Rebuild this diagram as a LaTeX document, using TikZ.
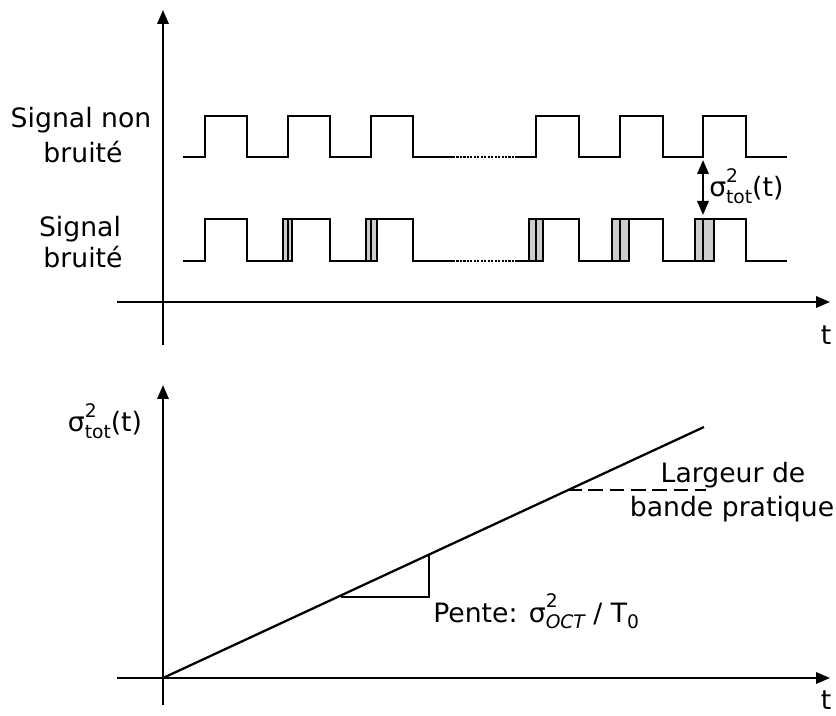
\documentclass[tikz,border=0pt]{standalone}
\usepackage{fontspec}
\setmainfont{DejaVu Sans}
\usetikzlibrary{arrows.meta}
\newcommand{\smallsz}{\fontsize{14}{15}\selectfont}
\newcommand{\sigsq}[1]{σ\makebox[0pt][l]{\raisebox{0.55em}{\smallsz 2}}\raisebox{-0.25em}{\smallsz #1}}
\definecolor{bandgray}{RGB}{204,204,204}
\tikzset{
  axis/.style={line width=1.7pt,-{Triangle[length=10.5pt,width=8.5pt]}},
  sig/.style={line width=1.7pt,line join=miter},
  band/.style={fill=bandgray,draw=black,line width=1.3pt},
  dots/.style={line width=1.8pt,dash pattern=on 1.6pt off 1pt},
  lbl/.style={font=\fontsize{20}{24}\selectfont,inner sep=0pt},
}
\begin{document}
\begin{tikzpicture}[x=0.75pt,y=-0.75pt]
\useasboundingbox (0,0) rectangle (836,716);
% ---------- top plot axes
\coordinate (v1b) at (163,345); \coordinate (v1t) at (163,10);
\coordinate (h1l) at (117,302); \coordinate (h1r) at (830,302);
\draw[axis] (v1b) -- (v1t);
\draw[axis] (h1l) -- (h1r);
\node[lbl] (t1) at (826,335) {t};
% labels
\node[lbl,anchor=base] (l1a) at (81,128) {Signal non};
\node[lbl,anchor=base] (l1b) at (83,163) {bruité};
\node[lbl,anchor=base] (l2a) at (80,237) {Signal};
\node[lbl,anchor=base] (l2b) at (83,268) {bruité};
% clean signal
\draw[sig] (183,157) -- (205,157) -- (205,116) -- (247,116) -- (247,157) -- (288,157) -- (288,116) -- (330,116) -- (330,157) -- (371,157) -- (371,116) -- (413,116) -- (413,157) -- (453,157);
\draw[dots] (453,157) -- (517,157);
\draw[sig] (517,157) -- (536,157) -- (536,116) -- (579,116) -- (579,157) -- (620,157) -- (620,116) -- (663,116) -- (663,157) -- (703,157) -- (703,116) -- (746,116) -- (746,157) -- (787,157);
% noisy signal bands
\foreach \a/\b in {283.3/292.3, 365.7/377.3, 529.3/543.3, 612.3/629.3, 695/714}
  \draw[band] (\a,261) rectangle (\b,219);
\draw[sig] (183,261) -- (205,261) -- (205,219) -- (247,219) -- (247,261) -- (288,261) -- (288,219) -- (330,219) -- (330,261) -- (371,261) -- (371,219) -- (413,219) -- (413,261) -- (453,261);
\draw[dots] (453,261) -- (517,261);
\draw[sig] (517,261) -- (536,261) -- (536,219) -- (579,219) -- (579,261) -- (620,261) -- (620,219) -- (663,219) -- (663,261) -- (703,261) -- (703,219) -- (746,219) -- (746,261) -- (787,261);
% sigma arrow
\coordinate (da) at (703,160); \coordinate (db) at (703,215);
\draw[line width=1.7pt,{Triangle[length=10.5pt,width=8.5pt]}-{Triangle[length=10.5pt,width=8.5pt]}] (da) -- (db);
\node[lbl,anchor=base west] (s1) at (709,197) {\sigsq{tot}(t)};
% ---------- bottom plot
\coordinate (v2b) at (163,705); \coordinate (v2t) at (163,385);
\coordinate (h2l) at (117,678); \coordinate (h2r) at (830,678);
\draw[axis] (v2b) -- (v2t);
\draw[axis] (h2l) -- (h2r);
\node[lbl,anchor=base] (t2) at (826,709) {t};
\node[lbl,anchor=base] (s2) at (105,432) {\sigsq{tot}(t)};
\coordinate (o) at (163,678); \coordinate (e) at (704,427);
\draw[sig] (o) -- (e);
\coordinate (p1) at (341,597); \coordinate (p2) at (429,597); \coordinate (p3) at (429,555);
\draw[sig] (p1) -- (p2) -- (p3);
\coordinate (q1) at (567,490); \coordinate (q2) at (706,490);
\draw[sig,dash pattern=on 11pt off 5pt] (q1) -- (q2);
\node[lbl,anchor=base] (lg1) at (733,483) {Largeur de};
\node[lbl,anchor=base] (lg2) at (732,517) {bande pratique};
\node[lbl,anchor=base west] (pe) at (433,622) {Pente: \sigsq{\itshape OCT} / T\raisebox{-0.25em}{\smallsz 0}};
\end{tikzpicture}
\end{document}
